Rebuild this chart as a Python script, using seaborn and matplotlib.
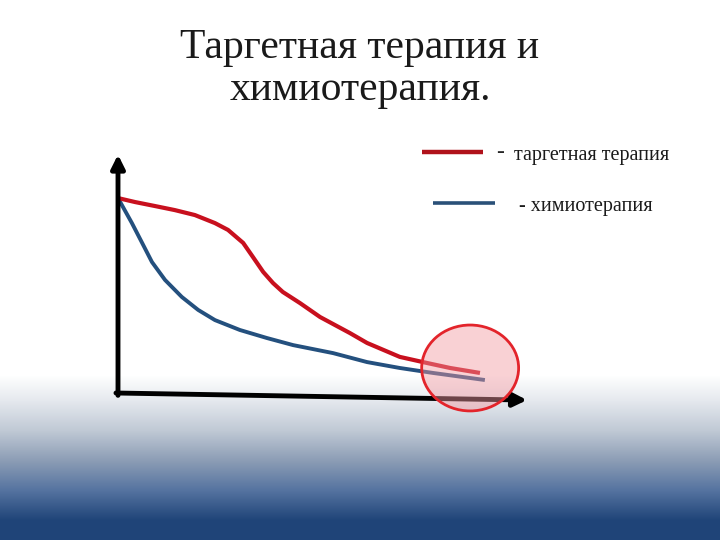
import numpy as np
import pandas as pd
import matplotlib
matplotlib.use('Agg')
import matplotlib.pyplot as plt
from matplotlib.patches import Ellipse
import seaborn as sns

# Значения (время и доля, в % от длины осей)
time_target = [0, 4.2, 9.1, 13.9, 18.8, 23.7, 26.9, 30.6, 33.0, 35.5, 37.9, 40.3,
               44.5, 49.4, 56.7, 60.9, 68.9, 75.6, 81.2, 88.5]
surv_target = [82.6, 80.9, 79.2, 77.5, 75.4, 72.0, 69.1, 63.6, 57.6, 51.3, 46.6, 42.8,
               38.1, 32.2, 25.4, 21.2, 15.3, 12.7, 10.6, 8.5]

time_chemo = [0, 3.4, 5.9, 8.3, 11.5, 15.6, 19.6, 23.7, 29.8, 36.4, 42.8, 47.7,
              52.6, 60.9, 68.9, 77.0, 89.7]
surv_chemo = [82.6, 72.0, 63.6, 55.5, 47.9, 40.7, 35.2, 30.9, 26.7, 23.3, 20.3, 18.6,
              16.9, 13.1, 10.6, 8.5, 5.5]

labels = ['таргетная терапия', 'химиотерапия']
title_lines = ['Таргетная терапия и', 'химиотерапия.']

red = '#C8101E'
blue = '#24507E'
serif = ['Liberation Serif', 'DejaVu Serif']

sns.set_style('white')

fig = plt.figure(figsize=(7.2, 5.4), dpi=100)

# фон: белый сверху, синий градиент снизу
bg = fig.add_axes([0, 0, 1, 1], zorder=0)
rows = np.arange(540)
stops_y = [0, 375, 400, 430, 460, 490, 520, 540]
stops_c = np.array([[255, 255, 255], [255, 255, 255], [229, 233, 238], [192, 201, 213],
                    [140, 157, 181], [85, 115, 160], [31, 68, 120], [31, 68, 120]]) / 255
grad = np.stack([np.interp(rows, stops_y, stops_c[:, i]) for i in range(3)], axis=1)
grad = np.repeat(grad[:, None, :], 10, axis=1)
bg.imshow(grad, aspect='auto', extent=[0, 720, 540, 0])
bg.set_xlim(0, 720)
bg.set_ylim(540, 0)
bg.axis('off')

# заголовок
bg.text(360, 58, title_lines[0], fontsize=30, family=serif, ha='center', va='baseline',
        color='#1a1a1a')
bg.text(360, 100, title_lines[1], fontsize=30, family=serif, ha='center', va='baseline',
        color='#1a1a1a')

# легенда вручную, как на слайде
bg.plot([422, 483], [152, 152], color='#B0121B', lw=3.2, solid_capstyle='butt')
bg.plot([433, 495], [203, 203], color='#2A5078', lw=2.6, solid_capstyle='butt')
bg.text(496, 158, '-', fontsize=17, family=serif, va='baseline', ha='left')
bg.text(514, 160, labels[0], fontsize=14.5, family=serif, va='baseline', ha='left',
        color='#1a1a1a')
bg.text(519, 211, '- ' + labels[1], fontsize=14.5, family=serif, va='baseline', ha='left',
        color='#1a1a1a')

# график
ax = fig.add_axes([118 / 720, 1 - 393 / 540, 409 / 720, 236 / 540], zorder=1)
ax.patch.set_alpha(0)
ax.set_xlim(0, 100)
ax.set_ylim(0, 100)
ax.axis('off')

df = pd.concat([
    pd.DataFrame({'t': time_target, 's': surv_target, 'g': labels[0]}),
    pd.DataFrame({'t': time_chemo, 's': surv_chemo, 'g': labels[1]}),
])
sns.lineplot(data=df[df.g == labels[1]], x='t', y='s', ax=ax, color=blue, lw=2.8,
             sort=False, legend=False, solid_capstyle='butt', solid_joinstyle='round')
sns.lineplot(data=df[df.g == labels[0]], x='t', y='s', ax=ax, color=red, lw=3.0,
             sort=False, legend=False, solid_capstyle='butt', solid_joinstyle='round')

# оси со стрелками
ax.annotate('', xy=(0, 101), xytext=(0, -1), annotation_clip=False,
            arrowprops=dict(arrowstyle='-|>', lw=3.5, color='black', mutation_scale=20,
                            shrinkA=0, shrinkB=0))
ax.annotate('', xy=(100, -3), xytext=(-0.5, 0), annotation_clip=False,
            arrowprops=dict(arrowstyle='-|>', lw=3.5, color='black', mutation_scale=20,
                            shrinkA=0, shrinkB=0))

# выделение хвостов кривых
ax.add_patch(Ellipse((86.1, 10.6), 23.7, 36.4, facecolor=(0.95, 0.6, 0.63, 0.45),
                     edgecolor='#E3242B', lw=2, clip_on=False, zorder=5))

fig.savefig('out.png', dpi=100)
